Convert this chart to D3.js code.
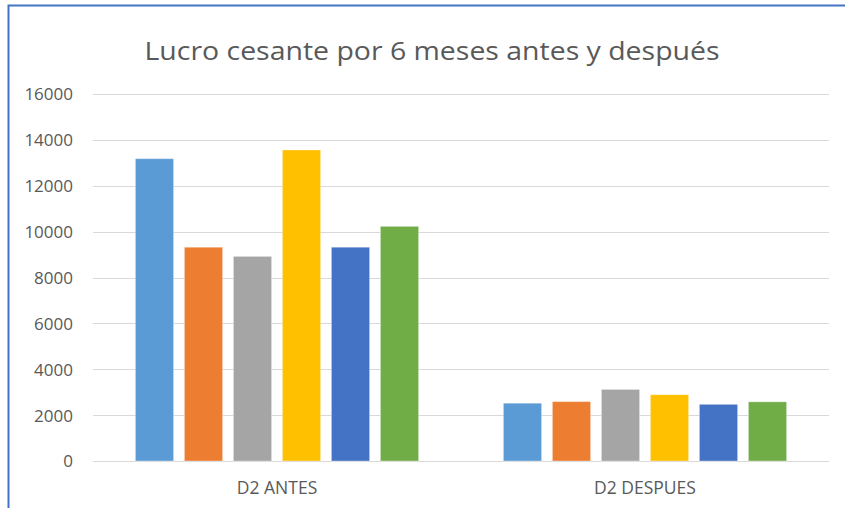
<!DOCTYPE html>
<html>
<head>
<meta charset="utf-8">
<script src="https://cdn.jsdelivr.net/npm/d3@7"></script>
<style>
  html, body { margin: 0; padding: 0; background: #fff; }
  svg { display: block; }
</style>
</head>
<body>
<svg id="chart" width="845" height="508"></svg>
<script>
// Categories on the x axis
const categories = ["D2 ANTES", "D2 DESPUES"];
// One series per coloured bar in each group
const seriesNames = ["Serie 1", "Serie 2", "Serie 3", "Serie 4", "Serie 5", "Serie 6"];
const antes   = [13180, 9320, 8920, 13560, 9320, 10230];
const despues = [2520, 2590, 3120, 2890, 2470, 2580];
const seriesColors = ["#5B9BD5", "#ED7D31", "#A5A5A5", "#FFC000", "#4472C4", "#70AD47"];
const yTicks = [0, 2000, 4000, 6000, 8000, 10000, 12000, 14000, 16000];
const title = "Lucro cesante por 6 meses antes y después";

const values = [antes, despues];
const rows = categories.map((c, i) => ({
  category: c,
  bars: seriesNames.map((s, j) => ({ series: s, value: values[i][j], color: seriesColors[j] }))
}));

const svg = d3.select("#chart");
const W = 845, H = 508;
const plot = { left: 93, right: 829, top: 94, bottom: 461 };

// Frame around the chart area (top and left edges)
svg.append("path")
  .attr("d", `M8.5,${H} L8.5,5.5 L${W},5.5`)
  .attr("fill", "none")
  .attr("stroke", "#4472C4")
  .attr("stroke-width", 2);

const y = d3.scaleLinear().domain([0, 16000]).range([plot.bottom, plot.top]);
const x0 = d3.scaleBand().domain(categories).range([plot.left, plot.right]).padding(0);
const x1 = d3.scaleBand().domain(seriesNames).range([0, x0.bandwidth()])
  .paddingInner(0.22).paddingOuter(0.865);

// Horizontal gridlines
svg.append("g")
  .selectAll("line")
  .data(yTicks)
  .join("line")
  .attr("x1", plot.left).attr("x2", plot.right)
  .attr("y1", d => Math.round(y(d)) + 0.5).attr("y2", d => Math.round(y(d)) + 0.5)
  .attr("stroke", "#D9D9D9")
  .attr("stroke-width", 1);

// Y axis labels
const yAxis = d3.axisLeft(y).tickValues(yTicks).tickSize(0).tickPadding(0).tickFormat(d3.format("d"));
const yg = svg.append("g").attr("transform", `translate(73,0)`).call(yAxis);
yg.select(".domain").remove();
yg.selectAll("text")
  .attr("fill", "#595959")
  .attr("font-family", "'Open Sans', sans-serif")
  .attr("font-size", 17)
  .attr("dy", "0.35em");

// Bars
const groups = svg.append("g")
  .selectAll("g")
  .data(rows)
  .join("g")
  .attr("transform", d => `translate(${x0(d.category)},0)`);

groups.selectAll("rect")
  .data(d => d.bars)
  .join("rect")
  .attr("x", d => x1(d.series))
  .attr("width", x1.bandwidth())
  .attr("y", d => y(d.value))
  .attr("height", d => y(0) - y(d.value))
  .attr("fill", d => d.color)
  .attr("stroke", "#ffffff")
  .attr("stroke-opacity", 0.35)
  .attr("stroke-width", 1);

// X axis category labels
const xAxis = d3.axisBottom(x0).tickSize(0).tickPadding(0);
const xg = svg.append("g").attr("transform", `translate(0,482)`).call(xAxis);
xg.select(".domain").remove();
xg.selectAll("text")
  .attr("fill", "#595959")
  .attr("font-family", "'Open Sans', sans-serif")
  .attr("font-size", 17.5)
  .attr("dy", "0.71em");

// Title
svg.append("text")
  .attr("x", 432)
  .attr("y", 60)
  .attr("text-anchor", "middle")
  .attr("fill", "#595959")
  .attr("font-family", "'Open Sans', sans-serif")
  .attr("font-size", 25)
  .attr("textLength", 575)
  .attr("lengthAdjust", "spacingAndGlyphs")
  .text(title);
</script>
</body>
</html>
